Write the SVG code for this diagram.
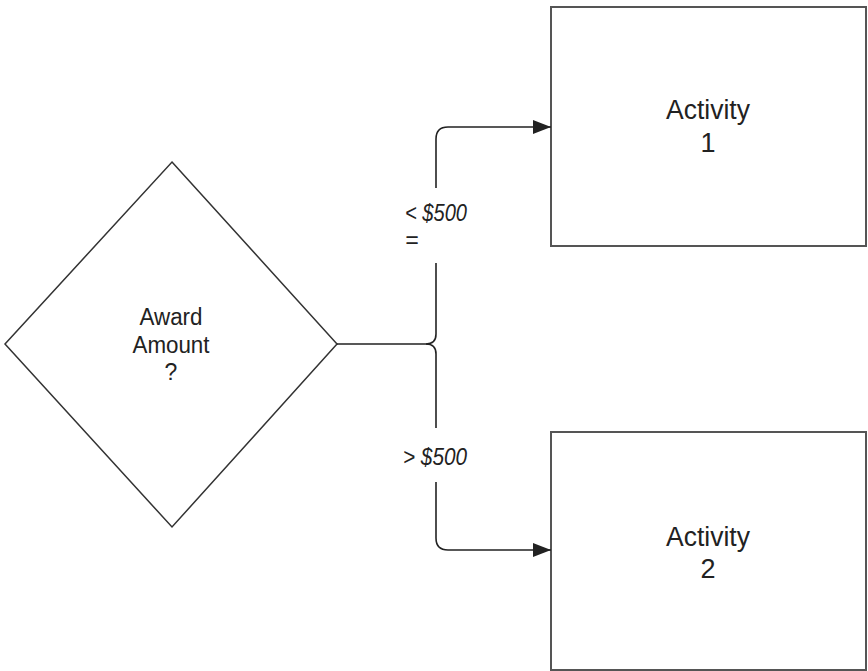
<svg xmlns="http://www.w3.org/2000/svg" width="868" height="671" viewBox="0 0 868 671">
  <style>
    .shape { fill: #fff; stroke: #333; stroke-width: 1.5; }
    .box { fill: #fff; stroke: #555; stroke-width: 2; }
    .wire { fill: none; stroke: #222; stroke-width: 1.6; }
    .lbl { font-family: "Liberation Sans", Arial, sans-serif; fill: #222; text-anchor: middle; }
    .cond { font-family: "Liberation Sans", Arial, sans-serif; font-style: italic; fill: #222; font-size: 23px; }
  </style>
  <defs>
    <marker id="arrow" viewBox="0 0 18 14" refX="18" refY="7" markerWidth="18" markerHeight="14" markerUnits="userSpaceOnUse" orient="auto">
      <path d="M0,0 L18,7 L0,14 Z" fill="#222"/>
    </marker>
  </defs>
  <rect width="868" height="671" fill="#fff"/>

  <g id="decision">
    <polygon class="shape" points="172,162 337,344 172,527 5,344"/>
    <text class="lbl" font-size="23" x="171" y="325" textLength="63" lengthAdjust="spacingAndGlyphs">Award</text>
    <text class="lbl" font-size="23" x="171" y="353" textLength="77" lengthAdjust="spacingAndGlyphs">Amount</text>
    <text class="lbl" font-size="23" x="171" y="380">?</text>
  </g>

  <g id="activity1">
    <rect class="box" x="551" y="7" width="315" height="239"/>
    <text class="lbl" font-size="27" x="708" y="119" textLength="84" lengthAdjust="spacingAndGlyphs">Activity</text>
    <text class="lbl" font-size="27" x="708" y="152">1</text>
  </g>

  <g id="activity2">
    <rect class="box" x="551" y="432" width="315" height="238"/>
    <text class="lbl" font-size="27" x="708" y="546" textLength="84" lengthAdjust="spacingAndGlyphs">Activity</text>
    <text class="lbl" font-size="27" x="708" y="578">2</text>
  </g>

  <g id="connectors">
    <path class="wire" d="M337,344 H426 Q436,344 436,334 V263"/>
    <path class="wire" d="M436,188 V139 Q436,127 448,127 H551" marker-end="url(#arrow)"/>
    <path class="wire" d="M426,344 Q436,344 436,354 V428"/>
    <path class="wire" d="M436,482 V538 Q436,550 448,550 H551" marker-end="url(#arrow)"/>
    <text class="cond" x="405" y="221" textLength="62" lengthAdjust="spacingAndGlyphs">&lt; $500</text>
    <text class="cond" x="405" y="248">=</text>
    <text class="cond" x="403" y="465" textLength="64" lengthAdjust="spacingAndGlyphs">&gt; $500</text>
  </g>
</svg>
